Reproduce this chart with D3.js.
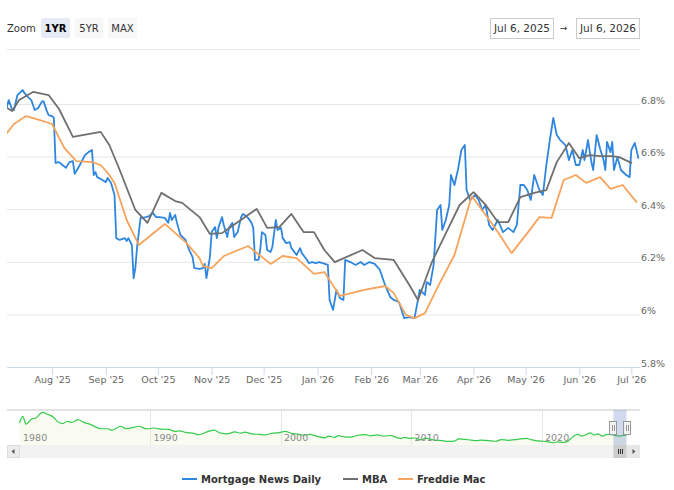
<!DOCTYPE html>
<html>
<head>
<meta charset="utf-8">
<script src="https://cdn.jsdelivr.net/npm/d3@7"></script>
<style>
    html, body { margin: 0; padding: 0; background: #fff; }
    svg { display: block; font-family: "DejaVu Sans", Verdana, sans-serif; }
</style>
</head>
<body>
<div id="chart"></div>
<script>
(function () {
    'use strict';

    // ── data ─────────────────────────────────────────────────────────────────
    const mortgageNewsDaily = [
        ['2025-07-06', 6.790], ['2025-07-07', 6.815], ['2025-07-09', 6.777], ['2025-07-10', 6.777],
        ['2025-07-12', 6.834], ['2025-07-15', 6.853], ['2025-07-16', 6.842], ['2025-07-18', 6.827],
        ['2025-07-20', 6.815], ['2025-07-22', 6.777], ['2025-07-24', 6.785], ['2025-07-26', 6.808],
        ['2025-07-27', 6.811], ['2025-07-29', 6.773], ['2025-07-30', 6.758], ['2025-08-01', 6.754],
        ['2025-08-02', 6.747], ['2025-08-03', 6.576], ['2025-08-05', 6.579], ['2025-08-07', 6.568],
        ['2025-08-09', 6.557], ['2025-08-11', 6.579], ['2025-08-13', 6.583], ['2025-08-14', 6.534],
        ['2025-08-17', 6.568], ['2025-08-20', 6.606], ['2025-08-22', 6.617], ['2025-08-24', 6.625],
        ['2025-08-25', 6.530], ['2025-08-26', 6.541], ['2025-08-27', 6.522], ['2025-08-29', 6.515],
        ['2025-09-01', 6.503], ['2025-09-02', 6.519], ['2025-09-04', 6.500], ['2025-09-06', 6.454],
        ['2025-09-07', 6.290], ['2025-09-09', 6.283], ['2025-09-12', 6.290], ['2025-09-13', 6.279],
        ['2025-09-14', 6.290], ['2025-09-16', 6.264], ['2025-09-17', 6.138], ['2025-09-18', 6.176],
        ['2025-09-19', 6.256], ['2025-09-21', 6.367], ['2025-09-22', 6.367], ['2025-09-24', 6.370],
        ['2025-09-26', 6.374], ['2025-09-28', 6.386], ['2025-09-30', 6.370], ['2025-10-02', 6.370],
        ['2025-10-05', 6.367], ['2025-10-07', 6.348], ['2025-10-08', 6.386], ['2025-10-09', 6.359],
        ['2025-10-11', 6.378], ['2025-10-12', 6.348], ['2025-10-14', 6.302], ['2025-10-17', 6.283],
        ['2025-10-19', 6.245], ['2025-10-21', 6.218], ['2025-10-22', 6.176], ['2025-10-25', 6.173],
        ['2025-10-27', 6.176], ['2025-10-28', 6.192], ['2025-10-29', 6.138], ['2025-10-31', 6.218],
        ['2025-11-01', 6.313], ['2025-11-03', 6.332], ['2025-11-04', 6.290], ['2025-11-05', 6.332],
        ['2025-11-06', 6.351], ['2025-11-07', 6.370], ['2025-11-08', 6.340], ['2025-11-10', 6.294],
        ['2025-11-11', 6.329], ['2025-11-13', 6.348], ['2025-11-14', 6.294], ['2025-11-16', 6.313],
        ['2025-11-18', 6.370], ['2025-11-19', 6.382], ['2025-11-20', 6.378], ['2025-11-22', 6.367],
        ['2025-11-24', 6.348], ['2025-11-25', 6.329], ['2025-11-26', 6.207], ['2025-11-28', 6.207],
        ['2025-11-29', 6.245], ['2025-11-30', 6.313], ['2025-12-02', 6.302], ['2025-12-03', 6.245],
        ['2025-12-05', 6.237], ['2025-12-06', 6.256], ['2025-12-08', 6.359], ['2025-12-09', 6.321],
        ['2025-12-11', 6.329], ['2025-12-12', 6.290], ['2025-12-14', 6.271], ['2025-12-16', 6.275],
        ['2025-12-17', 6.252], ['2025-12-20', 6.226], ['2025-12-22', 6.252], ['2025-12-23', 6.233],
        ['2025-12-26', 6.207], ['2025-12-27', 6.195], ['2025-12-29', 6.199], ['2025-12-31', 6.195],
        ['2026-01-02', 6.199], ['2026-01-04', 6.195], ['2026-01-07', 6.188], ['2026-01-08', 6.055],
        ['2026-01-10', 6.017], ['2026-01-12', 6.093], ['2026-01-14', 6.062], ['2026-01-16', 6.055],
        ['2026-01-17', 6.207], ['2026-01-20', 6.199], ['2026-01-23', 6.188], ['2026-01-26', 6.199],
        ['2026-01-28', 6.188], ['2026-01-31', 6.199], ['2026-02-03', 6.192], ['2026-02-06', 6.169],
        ['2026-02-09', 6.112], ['2026-02-12', 6.066], ['2026-02-14', 6.055], ['2026-02-17', 6.047],
        ['2026-02-20', 5.986], ['2026-02-23', 5.990], ['2026-02-26', 5.986], ['2026-03-01', 6.093],
        ['2026-03-04', 6.074], ['2026-03-05', 6.123], ['2026-03-07', 6.112], ['2026-03-09', 6.188],
        ['2026-03-11', 6.397], ['2026-03-13', 6.416], ['2026-03-14', 6.321], ['2026-03-16', 6.359],
        ['2026-03-18', 6.416], ['2026-03-19', 6.530], ['2026-03-21', 6.492], ['2026-03-23', 6.549],
        ['2026-03-25', 6.625], ['2026-03-27', 6.644], ['2026-03-28', 6.473], ['2026-03-30', 6.435],
        ['2026-04-02', 6.454], ['2026-04-04', 6.435], ['2026-04-06', 6.397], ['2026-04-08', 6.416],
        ['2026-04-10', 6.340], ['2026-04-12', 6.321], ['2026-04-15', 6.359], ['2026-04-18', 6.313],
        ['2026-04-21', 6.329], ['2026-04-24', 6.313], ['2026-04-26', 6.340], ['2026-04-28', 6.492],
        ['2026-04-30', 6.492], ['2026-05-02', 6.473], ['2026-05-04', 6.435], ['2026-05-06', 6.530],
        ['2026-05-09', 6.473], ['2026-05-11', 6.454], ['2026-05-13', 6.568], ['2026-05-15', 6.663],
        ['2026-05-17', 6.747], ['2026-05-19', 6.682], ['2026-05-21', 6.663], ['2026-05-24', 6.644],
        ['2026-05-26', 6.587], ['2026-05-28', 6.625], ['2026-05-30', 6.568], ['2026-06-01', 6.568],
        ['2026-06-03', 6.625], ['2026-06-04', 6.587], ['2026-06-06', 6.663], ['2026-06-08', 6.579],
        ['2026-06-09', 6.549], ['2026-06-11', 6.682], ['2026-06-13', 6.630], ['2026-06-15', 6.587],
        ['2026-06-16', 6.549], ['2026-06-17', 6.656], ['2026-06-19', 6.617], ['2026-06-20', 6.656],
        ['2026-06-21', 6.549], ['2026-06-23', 6.598], ['2026-06-25', 6.549], ['2026-06-28', 6.530],
        ['2026-06-30', 6.522], ['2026-07-01', 6.625], ['2026-07-03', 6.652], ['2026-07-04', 6.625],
        ['2026-07-05', 6.595]
    ];

    const mba = [
        ['2025-07-06', 6.785], ['2025-07-09', 6.773], ['2025-07-13', 6.815], ['2025-07-21', 6.846],
        ['2025-07-30', 6.834], ['2025-08-05', 6.781], ['2025-08-13', 6.675], ['2025-08-29', 6.694],
        ['2025-09-03', 6.644], ['2025-09-09', 6.549], ['2025-09-18', 6.397], ['2025-09-25', 6.348],
        ['2025-10-03', 6.462], ['2025-10-11', 6.431], ['2025-10-15', 6.424], ['2025-10-25', 6.370],
        ['2025-10-31', 6.306], ['2025-11-07', 6.309], ['2025-11-12', 6.332], ['2025-11-27', 6.401],
        ['2025-12-03', 6.329], ['2025-12-10', 6.332], ['2025-12-17', 6.382], ['2025-12-24', 6.313],
        ['2025-12-30', 6.313], ['2026-01-05', 6.245], ['2026-01-11', 6.199], ['2026-01-27', 6.245],
        ['2026-02-03', 6.214], ['2026-02-14', 6.207], ['2026-02-23', 6.112], ['2026-02-28', 6.055],
        ['2026-03-08', 6.199], ['2026-03-17', 6.321], ['2026-03-24', 6.416], ['2026-04-01', 6.465],
        ['2026-04-08', 6.416], ['2026-04-15', 6.351], ['2026-04-21', 6.351], ['2026-04-28', 6.446],
        ['2026-05-06', 6.462], ['2026-05-13', 6.473], ['2026-05-19', 6.579], ['2026-05-26', 6.652],
        ['2026-06-01', 6.594], ['2026-06-07', 6.606], ['2026-06-13', 6.602], ['2026-06-20', 6.602],
        ['2026-06-24', 6.598], ['2026-07-01', 6.576]
    ];

    const freddieMac = [
        ['2025-07-06', 6.690], ['2025-07-10', 6.724], ['2025-07-17', 6.754], ['2025-07-25', 6.739],
        ['2025-08-01', 6.724], ['2025-08-08', 6.633], ['2025-08-15', 6.583], ['2025-08-24', 6.579],
        ['2025-08-29', 6.568], ['2025-09-03', 6.530], ['2025-09-06', 6.500], ['2025-09-13', 6.359],
        ['2025-09-20', 6.264], ['2025-10-05', 6.344], ['2025-10-17', 6.275], ['2025-10-25', 6.214],
        ['2025-10-27', 6.184], ['2025-11-01', 6.176], ['2025-11-08', 6.222], ['2025-11-22', 6.260],
        ['2025-12-05', 6.192], ['2025-12-12', 6.222], ['2025-12-20', 6.214], ['2025-12-30', 6.154],
        ['2026-01-05', 6.161], ['2026-01-14', 6.070], ['2026-01-28', 6.093], ['2026-02-09', 6.108],
        ['2026-02-14', 6.081], ['2026-02-21', 5.998], ['2026-02-26', 5.986], ['2026-03-04', 6.005],
        ['2026-03-12', 6.112], ['2026-03-21', 6.226], ['2026-03-31', 6.450], ['2026-04-08', 6.378],
        ['2026-04-15', 6.313], ['2026-04-23', 6.233], ['2026-05-02', 6.309], ['2026-05-09', 6.370],
        ['2026-05-16', 6.367], ['2026-05-23', 6.511], ['2026-05-30', 6.530], ['2026-06-05', 6.500],
        ['2026-06-13', 6.522], ['2026-06-19', 6.477], ['2026-06-26', 6.492], ['2026-07-04', 6.427]
    ];

    // long history shown in the navigator strip
    const navHistory = [
        ['1980-01', 12.9], ['1980-04', 16.3], ['1980-07', 12.3], ['1980-12', 14.9], ['1981-04', 15.5],
        ['1981-10', 18.4], ['1982-03', 17.4], ['1982-08', 16.0], ['1982-12', 13.6], ['1983-05', 12.6],
        ['1983-09', 13.8], ['1984-01', 13.2], ['1984-07', 14.6], ['1984-12', 13.2], ['1985-06', 12.2],
        ['1985-12', 10.6], ['1986-04', 9.9], ['1986-10', 9.9], ['1987-02', 9.1], ['1987-10', 11.2],
        ['1988-03', 10.0], ['1988-09', 10.5], ['1989-03', 11.2], ['1989-10', 9.8], ['1990-04', 10.3],
        ['1990-12', 9.7], ['1991-06', 9.6], ['1991-12', 8.5], ['1992-04', 8.8], ['1992-10', 8.0],
        ['1993-06', 7.4], ['1993-10', 6.8], ['1994-06', 8.4], ['1994-12', 9.2], ['1995-06', 7.6],
        ['1995-12', 7.2], ['1996-07', 8.3], ['1996-12', 7.6], ['1997-04', 8.1], ['1997-12', 7.1],
        ['1998-06', 7.0], ['1998-10', 6.7], ['1999-06', 7.6], ['1999-12', 7.9], ['2000-05', 8.5],
        ['2000-12', 7.4], ['2001-05', 7.1], ['2001-11', 6.6], ['2002-04', 7.0], ['2002-10', 6.1],
        ['2003-06', 5.2], ['2003-09', 6.1], ['2004-03', 5.4], ['2004-06', 6.3], ['2004-12', 5.7],
        ['2005-06', 5.6], ['2005-11', 6.4], ['2006-07', 6.8], ['2006-12', 6.2], ['2007-06', 6.7],
        ['2007-12', 6.1], ['2008-06', 6.4], ['2008-12', 5.3], ['2009-04', 4.8], ['2009-06', 5.4],
        ['2009-12', 4.9], ['2010-04', 5.1], ['2010-11', 4.2], ['2011-02', 5.0], ['2011-10', 4.0],
        ['2012-06', 3.7], ['2012-11', 3.3], ['2013-05', 3.5], ['2013-09', 4.6], ['2014-06', 4.2],
        ['2015-01', 3.7], ['2015-06', 4.0], ['2016-07', 3.4], ['2016-12', 4.3], ['2017-06', 3.9],
        ['2018-03', 4.4], ['2018-11', 4.9], ['2019-03', 4.3], ['2019-09', 3.6], ['2020-03', 3.4],
        ['2020-12', 2.7], ['2021-04', 3.1], ['2021-08', 2.8], ['2021-12', 3.1], ['2022-06', 5.8],
        ['2022-10', 7.0], ['2023-02', 6.1], ['2023-10', 7.8], ['2024-01', 6.6], ['2024-05', 7.2],
        ['2024-09', 6.1], ['2025-01', 7.0], ['2025-06', 6.8], ['2025-09', 6.3], ['2026-01', 6.1],
        ['2026-04', 6.5], ['2026-07', 6.5]
    ];

    const yTicks       = [5.8, 6.0, 6.2, 6.4, 6.6, 6.8];
    const zoomButtons  = ['1YR', '5YR', 'MAX'];
    const rangeDates   = ['2025-07-06', '2026-07-06'];
    const navYears     = [1980, 1990, 2000, 2010, 2020];
    const seriesNames  = ['Mortgage News Daily', 'MBA', 'Freddie Mac'];
    const seriesColors = ['#2f86de', '#6f6f6f', '#f7a35c'];

    // ── setup ────────────────────────────────────────────────────────────────
    const W = 674, H = 490;
    const L = 7, R = 640;
    const parseDay   = d3.timeParse('%Y-%m-%d');
    const parseMonth = d3.timeParse('%Y-%m');
    const toPts = arr => arr.map(([d, v]) => ({ date: parseDay(d), value: v }));

    const series = [mortgageNewsDaily, mba, freddieMac].map(toPts);
    const nav = navHistory.map(([d, v]) => ({ date: parseMonth(d), value: v }));
    const [start, end] = rangeDates.map(parseDay);

    const svg = d3.select('#chart').append('svg')
        .attr('width', W).attr('height', H);
    svg.append('rect').attr('width', W).attr('height', H).attr('fill', '#fff');

    // ── range selector ───────────────────────────────────────────────────────
    svg.append('text')
        .attr('x', L).attr('y', 32)
        .style('font-size', '10px').style('fill', '#333')
        .text('Zoom');

    const btn = svg.append('g').selectAll('g')
        .data(zoomButtons).enter().append('g')
        .attr('transform', (d, i) => `translate(${41 + i * 33.5},18)`);
    btn.append('rect')
        .attr('width', 29).attr('height', 20).attr('rx', 2)
        .attr('fill', (d, i) => i === 0 ? '#e6ebf5' : '#f7f7f7');
    btn.append('text')
        .attr('x', 14.5).attr('y', 14)
        .attr('text-anchor', 'middle')
        .style('font-size', '10px')
        .style('font-weight', (d, i) => i === 0 ? 'bold' : 'normal')
        .style('fill', (d, i) => i === 0 ? '#000' : '#333')
        .text(d => d);

    const fmtInput = d3.timeFormat('%b %-d, %Y');
    const inputs = svg.append('g').selectAll('g')
        .data([start, end]).enter().append('g')
        .attr('transform', (d, i) => `translate(${i === 0 ? 490 : 576},18)`);
    inputs.append('rect')
        .attr('x', 0.5).attr('y', 0.5)
        .attr('width', 63).attr('height', 20)
        .attr('fill', '#fff').attr('stroke', '#ccc');
    inputs.append('text')
        .attr('x', 32).attr('y', 14)
        .attr('text-anchor', 'middle')
        .style('font-size', '10.5px').style('fill', '#333')
        .text(d => fmtInput(d));
    svg.append('text')
        .attr('x', 563.5).attr('y', 31)
        .attr('text-anchor', 'middle')
        .style('font-size', '9px').style('fill', '#333')
        .text('→');

    svg.append('line')
        .attr('x1', L).attr('x2', R).attr('y1', 49.5).attr('y2', 49.5)
        .attr('stroke', '#e6e6e6');

    // ── main chart ───────────────────────────────────────────────────────────
    const x = d3.scaleTime().domain([start, end]).range([L, R]);
    const y = d3.scaleLinear().domain([5.8, 6.8]).range([367, 104]);

    const yAxis = svg.append('g')
        .attr('transform', `translate(${R},0)`)
        .call(d3.axisRight(y)
            .tickValues(yTicks)
            .tickSize(-(R - L))
            .tickPadding(1)
            .tickFormat(d => (+d.toFixed(1)) + '%'));
    yAxis.select('.domain').remove();
    yAxis.selectAll('line').attr('stroke', '#e6e6e6');
    yAxis.selectAll('text')
        .attr('dy', -1)
        .style('font-family', '"DejaVu Sans", Verdana, sans-serif')
        .style('font-size', '9.5px').style('fill', '#666');

    const xAxis = svg.append('g')
        .attr('transform', 'translate(0,367)')
        .call(d3.axisBottom(x)
            .tickValues(d3.timeMonth.range(parseDay('2025-08-01'), end))
            .tickFormat(d3.timeFormat("%b '%y"))
            .tickSizeInner(8).tickSizeOuter(0)
            .tickPadding(1.5));
    xAxis.select('.domain').attr('stroke', '#ccd6eb');
    xAxis.selectAll('line').attr('stroke', '#ccd6eb');
    xAxis.selectAll('text')
        .style('font-family', '"DejaVu Sans", Verdana, sans-serif')
        .style('font-size', '9.5px').style('fill', '#666');

    svg.append('clipPath').attr('id', 'plot-clip')
        .append('rect').attr('x', L).attr('y', 50).attr('width', R - L).attr('height', 317);

    const line = d3.line().x(d => x(d.date)).y(d => y(d.value));
    svg.append('g').attr('clip-path', 'url(#plot-clip)')
        .selectAll('path')
        .data(series).enter().append('path')
        .attr('d', line)
        .attr('fill', 'none')
        .attr('stroke', (d, i) => seriesColors[i])
        .attr('stroke-width', 1.8)
        .attr('stroke-linejoin', 'round')
        .attr('stroke-linecap', 'round');

    // ── navigator ────────────────────────────────────────────────────────────
    const navTop = 410, navBottom = 445;
    const navX = d3.scaleTime().domain([parseDay('1980-01-01'), end]).range([19.5, 626.5]);
    const navY = d3.scaleLinear().domain([2.5, 18.6]).range([443, 412]);

    svg.append('path')
        .datum(nav)
        .attr('d', d3.area().x(d => navX(d.date)).y0(navBottom).y1(d => navY(d.value))
            .curve(d3.curveMonotoneX))
        .attr('fill', '#fafbf0');

    svg.append('g').selectAll('line')
        .data(navYears.slice(1)).enter().append('line')
        .attr('x1', d => Math.round(navX(new Date(d, 0, 1))) + 0.5)
        .attr('x2', d => Math.round(navX(new Date(d, 0, 1))) + 0.5)
        .attr('y1', navTop).attr('y2', navBottom)
        .attr('stroke', '#e6e6e6');

    svg.append('path')
        .datum(nav)
        .attr('d', d3.line().x(d => navX(d.date)).y(d => navY(d.value)).curve(d3.curveMonotoneX))
        .attr('fill', 'none')
        .attr('stroke', '#35cc4c')
        .attr('stroke-width', 1.2);

    svg.append('g').selectAll('text')
        .data(navYears).enter().append('text')
        .attr('x', d => navX(new Date(d, 0, 1)) + 3.5)
        .attr('y', 441)
        .style('font-size', '9.5px').style('fill', '#888')
        .text(d => d);

    svg.append('line')
        .attr('x1', L).attr('x2', R).attr('y1', navTop).attr('y2', navTop)
        .attr('stroke', '#e2e2e2').attr('stroke-width', 2);

    const selX0 = navX(start), selX1 = navX(end);
    svg.append('rect')
        .attr('x', selX0).attr('y', navTop)
        .attr('width', selX1 - selX0).attr('height', navBottom - navTop)
        .attr('fill', 'rgba(102,133,194,0.3)');

    const handle = svg.append('g').selectAll('g')
        .data([selX0, selX1]).enter().append('g')
        .attr('transform', d => `translate(${Math.round(d)},421)`);
    handle.append('rect')
        .attr('x', -3.5).attr('y', 0.5).attr('width', 7).attr('height', 13)
        .attr('fill', '#f2f2f2').attr('stroke', '#999');
    handle.selectAll('line')
        .data([-1, 1]).enter().append('line')
        .attr('x1', d => d + 0.5).attr('x2', d => d + 0.5)
        .attr('y1', 4).attr('y2', 10)
        .attr('stroke', '#999');

    // ── scrollbar ────────────────────────────────────────────────────────────
    const sbY = 445, sbH = 13;
    svg.append('rect')
        .attr('x', L).attr('y', sbY).attr('width', R - L).attr('height', sbH)
        .attr('fill', '#f2f2f2');
    svg.append('rect')
        .attr('x', L + 0.5).attr('y', sbY + 0.5).attr('width', 12).attr('height', sbH - 1)
        .attr('fill', '#ececec').attr('stroke', '#dcdcdc');
    svg.append('path')
        .attr('d', `M${L + 4.5},${sbY + 6.5}L${L + 7.5},${sbY + 4}L${L + 7.5},${sbY + 9}Z`)
        .attr('fill', '#555');

    svg.append('rect')
        .attr('x', selX0).attr('y', sbY).attr('width', selX1 - selX0).attr('height', sbH)
        .attr('fill', '#cccccc');
    svg.append('g').selectAll('line')
        .data([-2, 0, 2]).enter().append('line')
        .attr('x1', d => Math.round((selX0 + selX1) / 2) + d + 0.5)
        .attr('x2', d => Math.round((selX0 + selX1) / 2) + d + 0.5)
        .attr('y1', sbY + 4).attr('y2', sbY + 9)
        .attr('stroke', '#333');

    svg.append('rect')
        .attr('x', R - 13).attr('y', sbY).attr('width', 13).attr('height', sbH)
        .attr('fill', '#e6e6e6');
    svg.append('path')
        .attr('d', `M${R - 4.5},${sbY + 6.5}L${R - 7.5},${sbY + 4}L${R - 7.5},${sbY + 9}Z`)
        .attr('fill', '#555');

    // ── legend ───────────────────────────────────────────────────────────────
    const legendX = [182, 343, 398];
    const item = svg.append('g').selectAll('g')
        .data(seriesNames).enter().append('g')
        .attr('transform', (d, i) => `translate(${legendX[i]},479)`);
    item.append('line')
        .attr('x1', 0).attr('x2', 15)
        .attr('stroke', (d, i) => seriesColors[i])
        .attr('stroke-width', 2);
    item.append('text')
        .attr('x', 19).attr('y', 4)
        .style('font-size', '10px').style('font-weight', 'bold').style('fill', '#333')
        .text(d => d);
})();
</script>
</body>
</html>
